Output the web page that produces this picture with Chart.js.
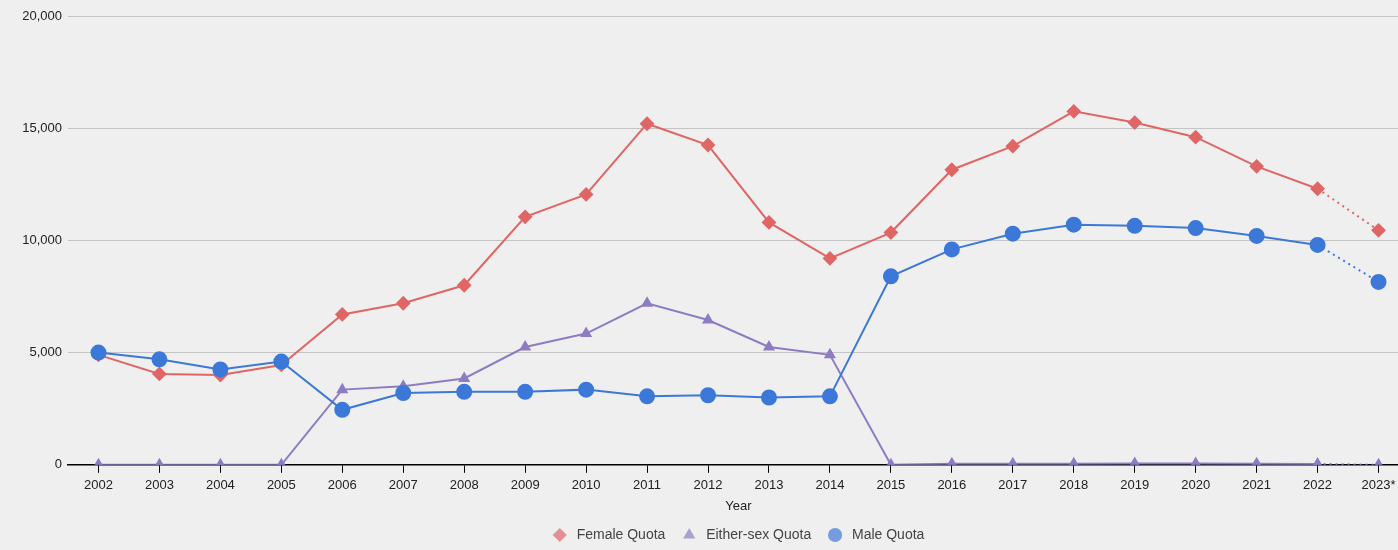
<!DOCTYPE html>
<html>
<head>
<meta charset="utf-8">
<script src="https://cdn.jsdelivr.net/npm/chart.js@4"></script>
<style>
  html, body { margin: 0; padding: 0; background: #efefef; overflow: hidden; }
  #wrap { position: relative; width: 1418px; height: 550px; }
</style>
</head>
<body>
<div id="wrap"><canvas id="quotaChart"></canvas></div>
<script>
const years = ['2002', '2003', '2004', '2005', '2006', '2007', '2008', '2009', '2010', '2011', '2012',
    '2013', '2014', '2015', '2016', '2017', '2018', '2019', '2020', '2021', '2022', '2023*'];
const femaleQuota = [4900, 4050, 4000, 4450, 6700, 7200, 8000, 11050, 12050, 15200, 14250,
    10800, 9200, 10350, 13150, 14200, 15750, 15250, 14600, 13300, 12300, 10450];
const eitherSexQuota = [0, 0, 0, 0, 3350, 3500, 3850, 5250, 5850, 7200, 6450,
    5250, 4900, 0, 50, 50, 50, 60, 60, 50, 40, 0];
const maleQuota = [5000, 4700, 4250, 4600, 2450, 3200, 3250, 3250, 3350, 3050, 3100,
    3000, 3050, 8400, 9600, 10300, 10700, 10650, 10550, 10200, 9800, 8150];
const yTicks = [0, 5000, 10000, 15000, 20000];

const lastIdx = years.length - 1;
// the last segment (into the 2023 estimate) is dotted
const dottedLast = ctx => ctx.p1DataIndex === lastIdx ? [2, 4] : undefined;

// shift the legend so it sits where the reference has it
const legendShift = {
    id: 'legendShift',
    afterUpdate(chart) {
        const lg = chart.legend;
        const dx = 32;
        lg.left += dx;
        lg.right += dx;
        (lg.legendHitBoxes || []).forEach(b => { b.left += dx; });
    }
};

const ctx = document.getElementById('quotaChart').getContext('2d');
new Chart(ctx, {
    type: 'line',
    data: {
        labels: years,
        datasets: [
            {
                label: 'Female Quota',
                data: femaleQuota,
                borderColor: '#e06666',
                backgroundColor: '#e06666',
                borderWidth: 2,
                pointStyle: 'rectRot',
                pointRadius: 6,
                pointHoverRadius: 6,
                order: 2,
                segment: { borderDash: dottedLast }
            },
            {
                label: 'Either-sex Quota',
                data: eitherSexQuota,
                borderColor: '#8e7cc3',
                backgroundColor: '#8e7cc3',
                borderWidth: 2,
                pointStyle: 'triangle',
                pointRadius: 5,
                pointHoverRadius: 5,
                order: 1,
                segment: { borderDash: dottedLast }
            },
            {
                label: 'Male Quota',
                data: maleQuota,
                borderColor: '#3c78d8',
                backgroundColor: '#3c78d8',
                borderWidth: 2,
                pointStyle: 'circle',
                pointRadius: 7,
                pointHoverRadius: 7,
                order: 0,
                segment: { borderDash: dottedLast }
            }
        ]
    },
    options: {
        responsive: true,
        maintainAspectRatio: false,
        animation: false,
        layout: { padding: { top: 16, right: 0, left: 0, bottom: -2 } },
        plugins: {
            legend: {
                position: 'bottom',
                labels: {
                    usePointStyle: true,
                    boxWidth: 12,
                    boxHeight: 10,
                    padding: 14,
                    color: '#444444',
                    font: { family: 'Liberation Sans, Arial, sans-serif', size: 14 },
                    sort: (a, b) => a.datasetIndex - b.datasetIndex,
                    generateLabels(chart) {
                        const items = Chart.defaults.plugins.legend.labels.generateLabels(chart);
                        items.forEach(it => {
                            it.text = ' ' + it.text + ' ';
                            it.fillStyle = it.fillStyle + 'b0';
                            it.strokeStyle = 'rgba(0,0,0,0)';
                        });
                        return items;
                    }
                }
            },
            tooltip: { enabled: false }
        },
        scales: {
            x: {
                offset: true,
                grid: {
                    offset: false,
                    drawOnChartArea: false,
                    drawTicks: true,
                    tickLength: 8,
                    color: '#000000'
                },
                border: { color: '#000000', width: 1.5 },
                ticks: {
                    color: '#222222',
                    padding: 5,
                    maxRotation: 0,
                    autoSkip: false,
                    font: { family: 'Liberation Sans, Arial, sans-serif', size: 13 }
                },
                title: {
                    display: true,
                    text: 'Year',
                    color: '#222222',
                    padding: { top: 0, bottom: 0 },
                    font: { family: 'Liberation Sans, Arial, sans-serif', size: 13 }
                }
            },
            y: {
                min: 0,
                max: 20000,
                afterBuildTicks(scale) {
                    scale.ticks = yTicks.map(v => ({ value: v }));
                },
                afterFit(scale) { scale.width = 68; },
                grid: { color: '#c4c4c4', drawTicks: false },
                border: { display: false },
                ticks: {
                    color: '#222222',
                    padding: 6,
                    font: { family: 'Liberation Sans, Arial, sans-serif', size: 13 }
                }
            }
        }
    },
    plugins: [legendShift]
});
</script>
</body>
</html>
